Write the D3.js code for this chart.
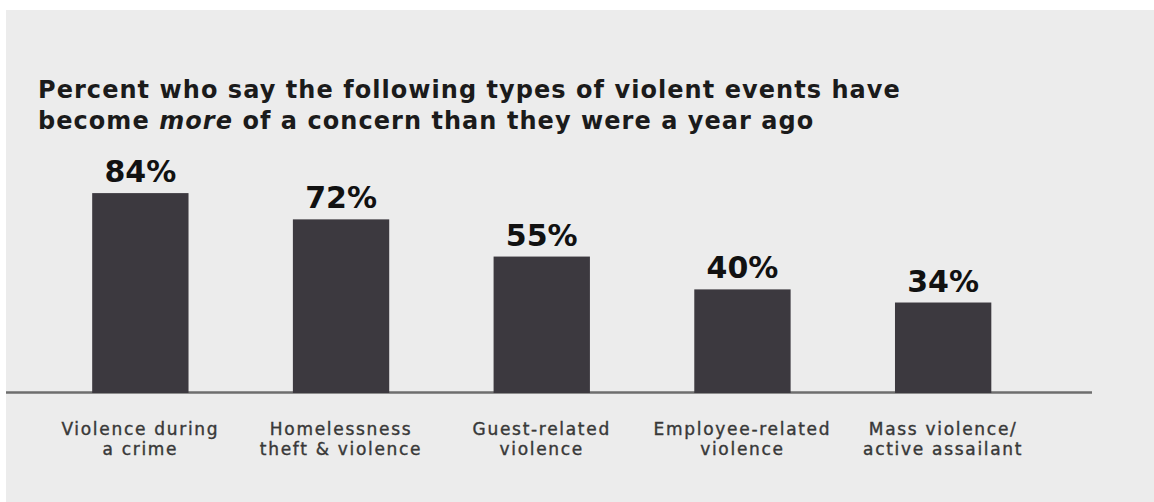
<!DOCTYPE html>
<html>
<head>
<meta charset="utf-8">
<script src="https://cdn.jsdelivr.net/npm/d3@7"></script>
<style>
  html, body { margin: 0; padding: 0; background: #ffffff; }
  svg { display: block; }
</style>
</head>
<body>
<svg id="chart" width="1154" height="502"></svg>
<script>
// Survey results: share who say each type of violent event has become more of a concern
const categories = [
  ["Violence during", "a crime"],
  ["Homelessness", "theft & violence"],
  ["Guest-related", "violence"],
  ["Employee-related", "violence"],
  ["Mass violence/", "active assailant"]
];
const values = [84, 72, 55, 40, 34];
const valueLabels = ["84%", "72%", "55%", "40%", "34%"];
const titleLines = [
  [{ t: "Percent who say the following types of violent events have" }],
  [{ t: "become " }, { t: "more", italic: true }, { t: " of a concern than they were a year ago" }]
];

const W = 1154, H = 502;
const baseline = 393;
const yFloor = -7.35; // value axis starts slightly below zero so short bars keep a visible stub
const titleX = 38, titleWidth = 863;

const svg = d3.select("#chart");

// panel background
svg.append("rect")
  .attr("x", 6).attr("y", 10)
  .attr("width", W - 6).attr("height", H - 10)
  .attr("fill", "#ececec");

const keys = categories.map((c, i) => i);

const x = d3.scaleBand()
  .domain(keys)
  .range([40, 1043.5])
  .paddingInner(0.52)
  .paddingOuter(0.26);

const y = d3.scaleLinear()
  .domain([yFloor, 100])
  .range([baseline, 158.1]);

// title, one text element per line; spacing adjusted so the first line spans the title width
const titleG = svg.append("g")
  .attr("font-family", "'DejaVu Sans', sans-serif")
  .attr("font-weight", 700)
  .attr("font-size", 24)
  .attr("fill", "#1b1b1b");

const titleTexts = titleLines.map((line, li) => {
  const t = titleG.append("text")
    .attr("x", titleX)
    .attr("y", li === 0 ? 98 : 129);
  line.forEach(seg => {
    t.append("tspan")
      .attr("font-style", seg.italic ? "italic" : "normal")
      .text(seg.t);
  });
  return t;
});
{
  const first = titleTexts[0].node();
  const n = first.getNumberOfChars();
  const w = first.getComputedTextLength();
  const ls = (titleWidth - w) / n;
  titleG.attr("letter-spacing", ls.toFixed(2));
}

// axis baseline
svg.append("line")
  .attr("x1", 6).attr("x2", 1092)
  .attr("y1", baseline - 0.5).attr("y2", baseline - 0.5)
  .attr("stroke", "#6e6e6e")
  .attr("stroke-width", 2.5);

// bars
svg.append("g")
  .selectAll("rect")
  .data(values)
  .join("rect")
  .attr("x", (d, i) => x(i))
  .attr("y", d => y(d))
  .attr("width", x.bandwidth())
  .attr("height", d => y(yFloor) - y(d))
  .attr("fill", "#3c393f");

// value labels
svg.append("g")
  .selectAll("text")
  .data(values)
  .join("text")
  .attr("x", (d, i) => x(i) + x.bandwidth() / 2)
  .attr("y", d => y(d) - 11)
  .attr("text-anchor", "middle")
  .attr("font-family", "'DejaVu Sans', sans-serif")
  .attr("font-weight", 700)
  .attr("font-size", 30)
  .attr("fill", "#111111")
  .text((d, i) => valueLabels[i]);

// category labels, two lines each, centred under the bars
const catG = svg.append("g")
  .attr("font-family", "'DejaVu Sans', sans-serif")
  .attr("font-size", 17)
  .attr("letter-spacing", 1.7)
  .attr("fill", "#383838")
  .attr("stroke", "#383838")
  .attr("stroke-width", 0.4)
  .attr("text-anchor", "middle");

categories.forEach((lines, i) => {
  lines.forEach((ln, li) => {
    catG.append("text")
      .attr("x", x(i) + x.bandwidth() / 2)
      .attr("y", 435 + li * 20)
      .text(ln);
  });
});
</script>
</body>
</html>
